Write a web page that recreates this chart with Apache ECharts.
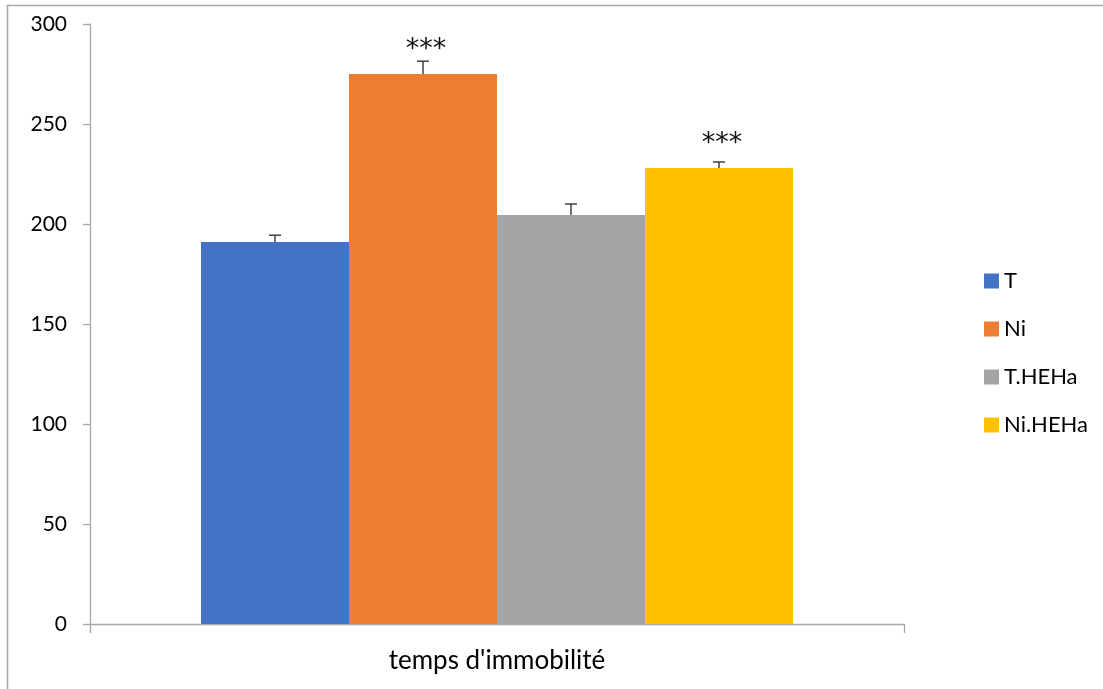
<!DOCTYPE html>
<html>
<head>
<meta charset="utf-8">
<script src="https://cdn.jsdelivr.net/npm/echarts@6/dist/echarts.min.js"></script>
<style>html,body{margin:0;padding:0;background:#fff;}#c{width:1103px;height:689px;}</style>
</head>
<body>
<div id="c"></div>
<script>
const categories = ["temps d'immobilité"];
const seriesNames = ['T', 'Ni', 'T.HEHa', 'Ni.HEHa'];
const values = [191, 275, 204.5, 228];
const errors = [3.4, 6.4, 5.5, 3];
const stars = ['', '***', '', '***'];
const colors = ['#4472C4', '#ED7D31', '#A5A5A5', '#FFC000'];
const yTicks = [0, 50, 100, 150, 200, 250, 300];

const FONT = 'Lato';
const GAP = 0.2727;

const chart = echarts.init(document.getElementById('c'), null, {renderer: 'canvas'});

const barSeries = seriesNames.map((name, i) => ({
  name: name,
  type: 'bar',
  data: [values[i]],
  itemStyle: {color: colors[i]},
  barGap: '0%',
  barCategoryGap: (GAP * 100) + '%',
  emphasis: {disabled: true}
}));

const errData = seriesNames.map((n, i) => [0, values[i], errors[i], i, stars[i]]);

const errSeries = {
  type: 'custom',
  name: 'err',
  data: errData,
  z: 10,
  silent: true,
  renderItem: function (params, api) {
    const v = api.value(1), e = api.value(2), idx = api.value(3);
    const label = errData[params.dataIndex][4];
    const band = api.size([1, 0])[0];
    const barW = band * (1 - GAP) / 4;
    const center = api.coord([0, v]);
    const x = center[0] + (idx - 1.5) * barW;
    const yTop = center[1];
    const yCap = api.coord([0, v + e])[1];
    const hw = 6;
    const children = [
      {type: 'line', shape: {x1: x, y1: yTop, x2: x, y2: yCap}, style: {stroke: '#404040', lineWidth: 1.5}},
      {type: 'line', shape: {x1: x - hw, y1: yCap, x2: x + hw, y2: yCap}, style: {stroke: '#404040', lineWidth: 1.5}}
    ];
    if (label) {
      children.push({type: 'text', x: x + 3, y: yTop - 24, style: {text: label, fill: '#111', font: '27px "DejaVu Sans"', textAlign: 'center', textVerticalAlign: 'middle'}});
    }
    return {type: 'group', children: children};
  }
};

chart.setOption({
  animation: false,
  textStyle: {fontFamily: FONT},
  graphic: [{
    type: 'rect', silent: true, z: -10,
    shape: {x: 7.5, y: 5.5, width: 2000, height: 2000},
    style: {fill: 'none', stroke: '#a6a6a6', lineWidth: 1.5}
  }],
  grid: {left: 90, right: 199, top: 24, bottom: 65, containLabel: false},
  legend: {
    orient: 'vertical',
    left: 979,
    top: 265,
    itemWidth: 15,
    itemHeight: 15,
    itemGap: 26,
    icon: 'rect',
    data: seriesNames,
    textStyle: {fontSize: 22, color: '#000', fontFamily: FONT, lineHeight: 22},
    selectedMode: false
  },
  xAxis: {
    type: 'category',
    data: categories,
    axisLine: {lineStyle: {color: '#a6a6a6', width: 1.3}},
    axisTick: {show: true, length: 9, lineStyle: {color: '#a6a6a6', width: 1.3}},
    axisLabel: {fontSize: 26, color: '#000', margin: 24, fontFamily: FONT}
  },
  yAxis: {
    type: 'value',
    min: yTicks[0],
    max: yTicks[yTicks.length - 1],
    interval: yTicks[1] - yTicks[0],
    axisLine: {show: true, lineStyle: {color: '#a6a6a6', width: 1.3}},
    axisTick: {show: true, length: 7, lineStyle: {color: '#a6a6a6', width: 1.3}},
    splitLine: {show: false},
    axisLabel: {fontSize: 21, color: '#000', margin: 23, fontFamily: FONT}
  },
  series: barSeries.concat([errSeries])
});
</script>
</body>
</html>
